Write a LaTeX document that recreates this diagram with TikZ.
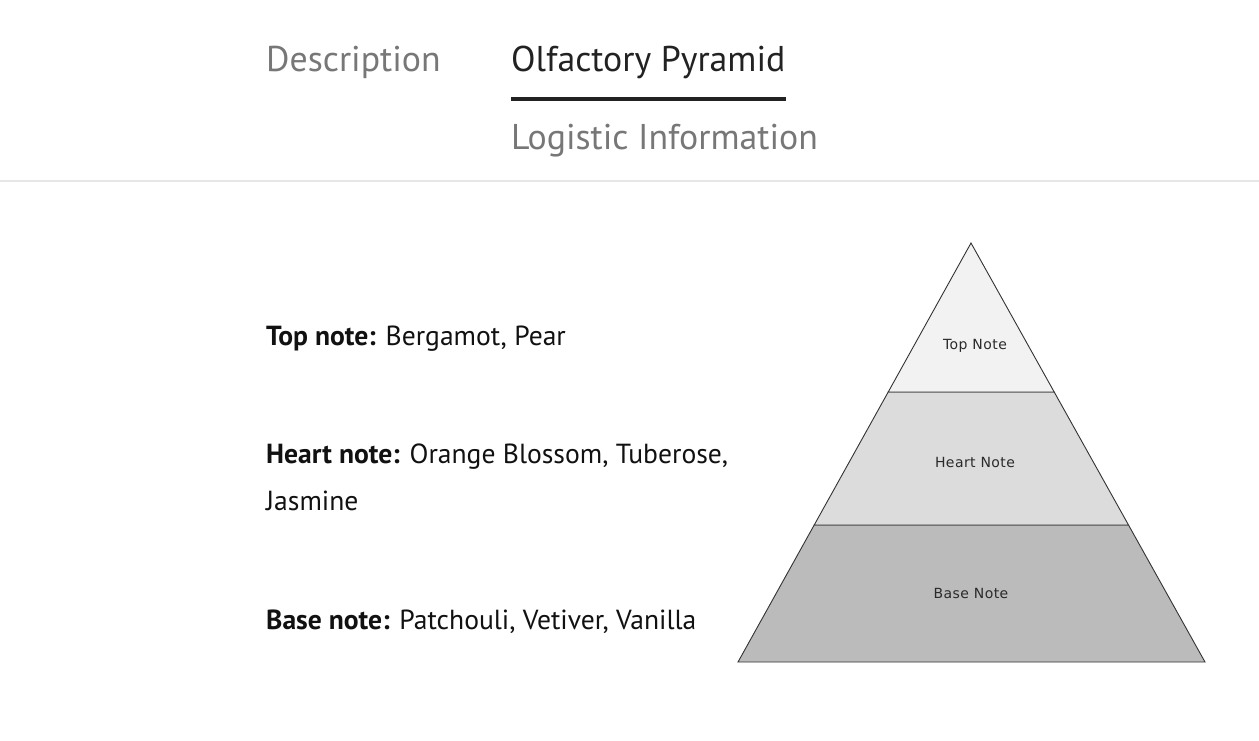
\documentclass[tikz,border=0pt]{standalone}
\usepackage{fontspec}
\setmainfont{PT Sans}
\newfontfamily\pyrfont[LetterSpace=3]{DejaVu Sans}
\definecolor{tabgray}{HTML}{777777}
\definecolor{tabdark}{HTML}{222222}
\definecolor{sepgray}{HTML}{E6E6E6}
\definecolor{bodyblack}{HTML}{111111}
\definecolor{fillTop}{HTML}{F2F2F2}
\definecolor{fillHeart}{HTML}{DCDCDC}
\definecolor{fillBase}{HTML}{BBBBBB}
\definecolor{edgegray}{HTML}{333333}
\definecolor{labelgray}{HTML}{2A2A2A}
\begin{document}
\begin{tikzpicture}[x=1pt,y=-1pt,
  tab/.style={anchor=base west,inner sep=0pt,font=\fontsize{35.8}{40}\selectfont},
  body/.style={anchor=base west,inner sep=0pt,text=bodyblack,font=\fontsize{27.6}{32}\selectfont},
  layer/.style={draw=edgegray,line width=0.9pt,line join=miter},
  pyrlabel/.style={inner sep=0pt,text=labelgray,font=\pyrfont\fontsize{14}{16}\selectfont}]
\useasboundingbox[fill=white] (0,0) rectangle (1259,740);
% tabs
\node[tab,text=tabgray] (desc) at (266,71) {Description};
\node[tab,text=tabdark] (olf) at (511,71) {Olfactory Pyramid};
\node[tab,text=tabgray] (logi) at (511,149) {Logistic Information};
\coordinate (ulA) at (511,99);
\coordinate (ulB) at (786,99);
\draw[tabdark,line width=4pt] (ulA) -- (ulB);
\coordinate (sepA) at (0,181);
\coordinate (sepB) at (1259,181);
\draw[sepgray,line width=2pt] (sepA) -- (sepB);
% body text
\node[body] (top) at (266,345) {\textbf{Top note:} Bergamot, Pear};
\node[body] (heart) at (266,463) {\textbf{Heart note:} Orange Blossom, Tuberose,};
\node[body] (jas) at (266,510) {Jasmine};
\node[body] (base) at (266,629) {\textbf{Base note:} Patchouli, Vetiver, Vanilla};
% pyramid
\coordinate (apex) at (971,243);
\coordinate (tl) at (888.2,392);
\coordinate (tr) at (1054.2,392);
\coordinate (hl) at (814.2,525);
\coordinate (hr) at (1128.5,525);
\coordinate (bl) at (738,662);
\coordinate (br) at (1205,662);
\filldraw[layer,fill=fillBase] (hl) -- (hr) -- (br) -- (bl) -- cycle;
\filldraw[layer,fill=fillHeart] (tl) -- (tr) -- (hr) -- (hl) -- cycle;
\filldraw[layer,fill=fillTop] (apex) -- (tr) -- (tl) -- cycle;
\node[pyrlabel] (ltop) at (975,346) {Top Note};
\node[pyrlabel] (lheart) at (975,462) {Heart Note};
\node[pyrlabel] (lbase) at (971,593) {Base Note};
\end{tikzpicture}
\end{document}
